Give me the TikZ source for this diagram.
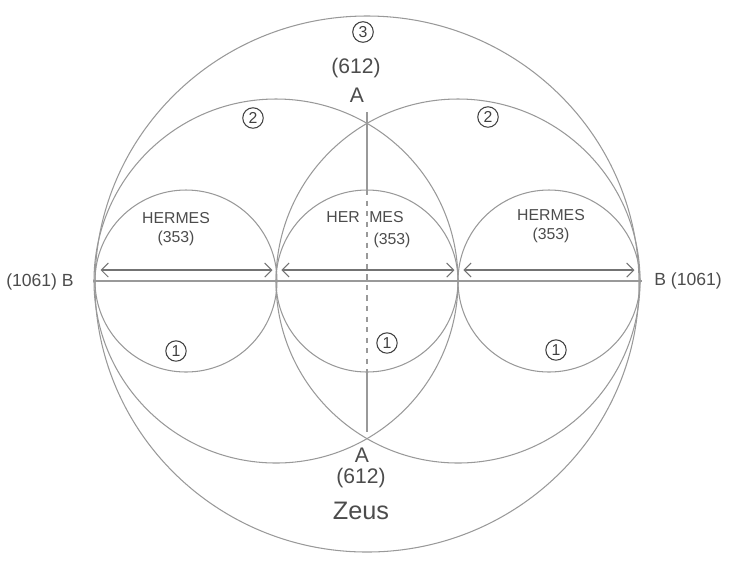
\documentclass[tikz,border=0pt]{standalone}
\usepackage{fontspec}
\setmainfont{Liberation Sans}
\usetikzlibrary{arrows.meta}
\begin{document}
\begin{tikzpicture}[x=0.02cm, y=-0.02cm, line width=0.6pt,
  arc/.style={draw=black!40},
  txt/.style={text=black!70, font=\large},
  godtxt/.style={text=black!70, font=\small, align=center},
  num/.style={circle, draw=black!75, text=black!75, inner sep=1.3pt, font=\small},
  span/.style={draw=black!55, {Straight Barb[length=4pt]}-{Straight Barb[length=4pt]}}]
\useasboundingbox (0,0) rectangle (739,576);
% circles
\draw[arc] (367,284) ellipse [x radius=272, y radius=268];
\draw[arc] (276,281) circle (182);
\draw[arc] (458,281) circle (182);
\foreach \x in {186,367,549} \draw[arc] (\x,281) circle (91);
% points
\coordinate (Bl) at (93,281);
\coordinate (Br) at (642,281);
\coordinate (At) at (367,112);
\coordinate (Ab) at (367,432);
\coordinate (Mt) at (367,190);
\coordinate (Mb) at (367,372);
\foreach \i/\x in {0/97,1/276,2/458,3/638} \coordinate (p\i) at (\x,270);
% lines
\draw[arc] (Bl) -- (Br);
\draw[arc] (At) -- (Mt);
\draw[arc, dashed] (Mt) -- (Mb);
\draw[arc] (Mb) -- (Ab);
\draw[span] ([xshift=2pt]p0) -- ([xshift=-2pt]p1);
\draw[span] ([xshift=3pt]p1) -- ([xshift=-2pt]p2);
\draw[span] ([xshift=3pt]p2) -- ([xshift=-2pt]p3);
% labels
\node[num] (n3) at (363,32) {3};
\node[txt] (v3) at (356,68) {(612)};
\node[txt] (a1) at (357,95) {A};
\node[num] (n2l) at (253,118) {2};
\node[num] (n2r) at (488,117) {2};
\node[num] (n1l) at (176,351) {1};
\node[num] (n1m) at (387,343) {1};
\node[num] (n1r) at (556,350) {1};
\node[godtxt] (h1) at (176,229) {HERMES\\(353)};
\node[godtxt] (h2) at (365,217) {HER\hspace{0.6em}MES};
\node[godtxt] (h2n) at (392,240) {(353)};
\node[godtxt] (h3) at (551,226) {HERMES\\(353)};
\node[txt, font=\normalsize] (bl) at (40,282) {(1061) B};
\node[txt, font=\normalsize] (br) at (688,281) {B (1061)};
\node[txt] (a2) at (362,455) {A};
\node[txt] (v2) at (361,478) {(612)};
\node[txt, font=\Large] (zeus) at (361,511) {Zeus};
\end{tikzpicture}
\end{document}
